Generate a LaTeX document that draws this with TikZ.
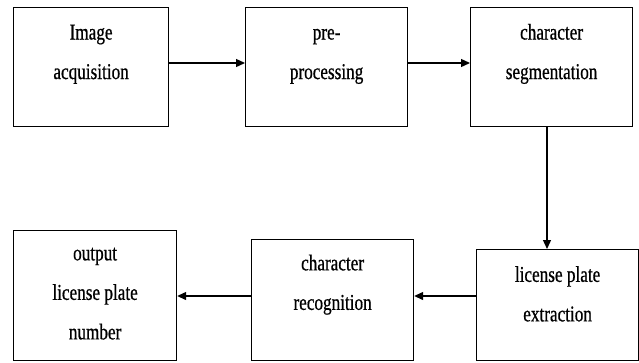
\documentclass[tikz,border=0pt]{standalone}
\usepackage{fontspec}
\setmainfont{Liberation Serif}
\newfontfamily\narrowserif[FakeStretch=0.76,FakeBold=0.6]{Liberation Serif}
\usetikzlibrary{arrows.meta}
\begin{document}
\begin{tikzpicture}[x=1pt,y=-1pt,
  box/.style={draw=black, line width=1.2pt, inner sep=0pt, anchor=north west},
  lbl/.style={anchor=north, inner sep=0pt, align=center,
    font=\narrowserif\fontsize{22.6}{39.5}\selectfont},
  arr/.style={line width=1.3pt, -{Triangle[length=9pt,width=8pt]}}]
\useasboundingbox (0,0) rectangle (639,362);
% boxes
\node[box, minimum width=155pt, minimum height=119pt] (b1) at (13,7) {};
\node[box, minimum width=162pt, minimum height=119pt] (b2) at (245,7) {};
\node[box, minimum width=162pt, minimum height=119pt] (b3) at (470,7) {};
\node[box, minimum width=162pt, minimum height=111pt] (b4) at (476,249) {};
\node[box, minimum width=162pt, minimum height=121pt] (b5) at (251,239) {};
\node[box, minimum width=163pt, minimum height=130pt] (b6) at (13,230) {};
% labels
\node[lbl] (t1) at ([yshift=-4.7pt]b1.north) {\strut Image\\acquisition};
\node[lbl] (t2) at ([yshift=-4.7pt]b2.north) {\strut pre-\\processing};
\node[lbl] (t3) at ([yshift=-4.7pt]b3.north) {\strut character\\segmentation};
\node[lbl] (t4) at ([yshift=-5.0pt]b4.north) {\strut license plate\\extraction};
\node[lbl] (t5) at ([yshift=-3.5pt]b5.north) {\strut character\\recognition};
\node[lbl] (t6) at ([yshift=-2.5pt]b6.north) {\strut output\\license plate\\number};
% connectors
\draw[arr] (b1.east |- 0,63) -- (b2.west |- 0,63);
\draw[arr] (b2.east |- 0,63) -- (b3.west |- 0,63);
\draw[arr] (b3.south -| 547,0) -- (b4.north -| 547,0);
\draw[arr] (b4.west |- 0,296) -- (b5.east |- 0,296);
\draw[arr] (b5.west |- 0,296) -- (b6.east |- 0,296);
\end{tikzpicture}
\end{document}
